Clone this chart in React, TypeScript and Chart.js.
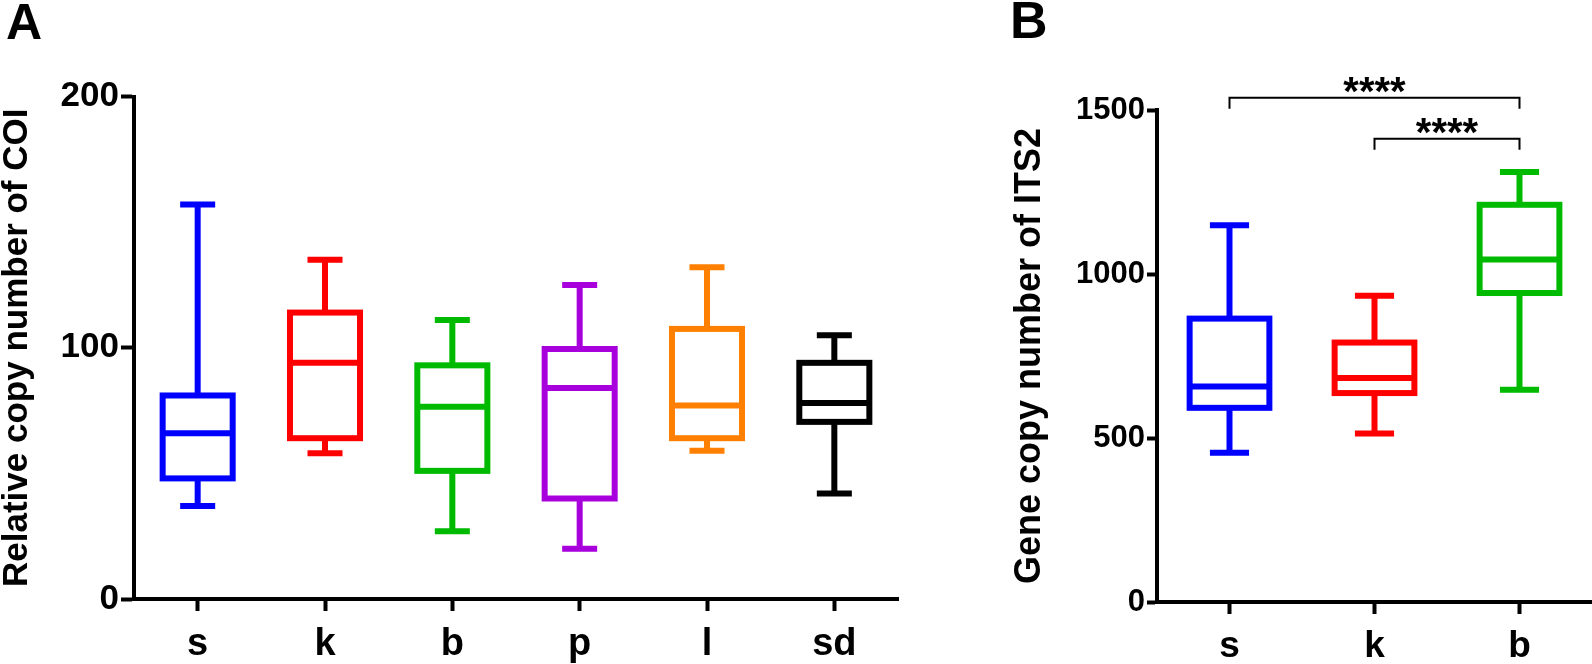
import React, { useEffect, useRef } from 'react';
import { Chart, registerables } from 'chart.js';

Chart.register(...registerables);

// ---------- Panel A data ----------
const categoriesA = ['s', 'k', 'b', 'p', 'l', 'sd'];
const minA = [37, 58, 27, 20, 59, 42];
const q1A = [48, 64, 51, 40, 64, 70.5];
const medianA = [66, 94, 76.5, 84, 77, 78];
const q3A = [81, 114, 93, 99.5, 107.5, 94];
const maxA = [157, 135, 111, 125, 132, 105];
const colorsA = ['#0000FF', '#FF0000', '#00BA00', '#A800DD', '#FF8000', '#000000'];
const ticksA = [0, 100, 200];

// ---------- Panel B data ----------
const categoriesB = ['s', 'k', 'b'];
const minB = [455, 514, 647];
const q1B = [592, 637, 942];
const medianB = [657, 683, 1044];
const q3B = [864, 791, 1211];
const maxB = [1149, 934, 1311];
const colorsB = ['#0000FF', '#FF0000', '#00BA00'];
const ticksB = [0, 500, 1000, 1500];

// significance brackets (panel B)
const bracketFrom = [0, 1];
const bracketTo = [2, 2];
const bracketLevel = [1537, 1412];
const bracketLabel = ['****', '****'];

const FONT = "'Liberation Sans', Arial, Helvetica, sans-serif";

type Stats = { min: number[]; q1: number[]; med: number[]; q3: number[]; max: number[] };

function makeBoxPlugin(
  id: string,
  stats: Stats,
  colors: string[],
  lw: number,
  boxFrac: number,
  capFrac: number,
  letter: string,
  letterX: number,
  letterY: number,
  letterSize: number,
  withBrackets: boolean
) {
  return {
    id,
    afterDatasetsDraw(chart: any) {
      const xs = chart.scales.x;
      const ys = chart.scales.y;
      const ctx: CanvasRenderingContext2D = chart.ctx;
      const step = Math.abs(xs.getPixelForValue(1) - xs.getPixelForValue(0));
      const bw = step * boxFrac;
      const cw = step * capFrac;
      ctx.save();
      ctx.lineCap = 'butt';
      ctx.lineJoin = 'miter';
      ctx.lineWidth = lw;
      stats.med.forEach((_, i) => {
        const cx = xs.getPixelForValue(i);
        const yMin = ys.getPixelForValue(stats.min[i]);
        const yQ1 = ys.getPixelForValue(stats.q1[i]);
        const yMed = ys.getPixelForValue(stats.med[i]);
        const yQ3 = ys.getPixelForValue(stats.q3[i]);
        const yMax = ys.getPixelForValue(stats.max[i]);
        ctx.strokeStyle = colors[i];
        ctx.beginPath();
        ctx.moveTo(cx, yQ3);
        ctx.lineTo(cx, yMax);
        ctx.moveTo(cx - cw / 2, yMax);
        ctx.lineTo(cx + cw / 2, yMax);
        ctx.moveTo(cx, yQ1);
        ctx.lineTo(cx, yMin);
        ctx.moveTo(cx - cw / 2, yMin);
        ctx.lineTo(cx + cw / 2, yMin);
        ctx.moveTo(cx - bw / 2, yMed);
        ctx.lineTo(cx + bw / 2, yMed);
        ctx.stroke();
        ctx.strokeRect(cx - bw / 2, yQ3, bw, yQ1 - yQ3);
      });
      ctx.restore();
    },
    afterDraw(chart: any) {
      const ctx: CanvasRenderingContext2D = chart.ctx;
      ctx.save();
      ctx.fillStyle = '#000';
      ctx.textAlign = 'left';
      ctx.textBaseline = 'alphabetic';
      ctx.font = `bold ${letterSize}px ${FONT}`;
      ctx.fillText(letter, letterX, letterY);
      if (withBrackets) {
        const xs = chart.scales.x;
        const ys = chart.scales.y;
        ctx.strokeStyle = '#000';
        ctx.lineWidth = 2;
        ctx.font = `bold 40px ${FONT}`;
        ctx.textAlign = 'center';
        bracketFrom.forEach((f, i) => {
          const x1 = xs.getPixelForValue(f);
          const x2 = xs.getPixelForValue(bracketTo[i]);
          const yb = ys.getPixelForValue(bracketLevel[i]);
          ctx.beginPath();
          ctx.moveTo(x1, yb + 11);
          ctx.lineTo(x1, yb);
          ctx.lineTo(x2, yb);
          ctx.lineTo(x2, yb + 11);
          ctx.stroke();
          const m = ctx.measureText(bracketLabel[i]);
          const asc = m.actualBoundingBoxAscent;
          const desc = m.actualBoundingBoxDescent;
          const centerY = yb - 13;
          const baseline = centerY + (asc - desc) / 2;
          ctx.fillText(bracketLabel[i], (x1 + x2) / 2, baseline);
        });
      }
      ctx.restore();
    },
  };
}

function buildConfig(opts: {
  labels: string[];
  stats: Stats;
  yMax: number;
  yTicks: number[];
  yTitle: string;
  padding: any;
  yWidth: number;
  xHeight: number;
  tickFont: number;
  xFont: number;
  titleFont: number;
  yTickLen: number;
  yTickPad: number;
  lw: number;
  plugin: any;
}) {
  const o = opts;
  return {
    type: 'bar' as const,
    data: {
      labels: o.labels,
      datasets: [
        {
          data: o.labels.map((_, i) => [o.stats.q1[i], o.stats.q3[i]]),
          backgroundColor: 'rgba(0,0,0,0)',
          borderWidth: 0,
        },
      ],
    },
    options: {
      responsive: false,
      animation: false as const,
      events: [],
      layout: { padding: o.padding },
      plugins: { legend: { display: false }, tooltip: { enabled: false } },
      scales: {
        x: {
          offset: true,
          grid: {
            offset: false,
            drawOnChartArea: false,
            drawTicks: true,
            tickLength: 12,
            tickWidth: o.lw - 2,
            tickColor: '#000',
          },
          border: { display: true, color: '#000', width: o.lw - 2 },
          ticks: {
            color: '#000',
            font: { family: FONT, size: o.xFont, weight: 'bold' },
            padding: 11,
          },
          afterFit(scale: any) {
            scale.height = o.xHeight;
          },
        },
        y: {
          min: 0,
          max: o.yMax,
          afterBuildTicks(scale: any) {
            scale.ticks = o.yTicks.map((v) => ({ value: v }));
          },
          grid: {
            drawOnChartArea: false,
            drawTicks: true,
            tickLength: o.yTickLen,
            tickWidth: o.lw - 2,
            tickColor: '#000',
          },
          border: { display: true, color: '#000', width: o.lw - 2 },
          ticks: {
            color: '#000',
            font: { family: FONT, size: o.tickFont, weight: 'bold' },
            padding: o.yTickPad,
            callback: (v: any) => String(v),
          },
          title: {
            display: true,
            text: o.yTitle,
            color: '#000',
            font: { family: FONT, size: o.titleFont, weight: 'bold', lineHeight: 1 },
            padding: { top: 0, bottom: 0 },
          },
          afterFit(scale: any) {
            scale.width = o.yWidth;
          },
        },
      },
    },
    plugins: [o.plugin],
  };
}

export default function App() {
  const refA = useRef<HTMLCanvasElement>(null);
  const refB = useRef<HTMLCanvasElement>(null);

  useEffect(() => {
    const statsA: Stats = { min: minA, q1: q1A, med: medianA, q3: q3A, max: maxA };
    const statsB: Stats = { min: minB, q1: q1B, med: medianB, q3: q3B, max: maxB };

    const chartA = new Chart(
      refA.current as HTMLCanvasElement,
      buildConfig({
        labels: categoriesA,
        stats: statsA,
        yMax: 200,
        yTicks: ticksA,
        yTitle: 'Relative copy number of COI',
        padding: { left: 0, top: 96.5, right: 62, bottom: 0 },
        yWidth: 134,
        xHeight: 65,
        tickFont: 35,
        xFont: 38,
        titleFont: 35,
        yTickLen: 13,
        yTickPad: 2,
        lw: 6,
        plugin: makeBoxPlugin('boxA', statsA, colorsA, 6, 0.55, 0.275, 'A', 6, 39, 50, false),
      }) as any
    );

    const chartB = new Chart(
      refB.current as HTMLCanvasElement,
      buildConfig({
        labels: categoriesB,
        stats: statsB,
        yMax: 1500,
        yTicks: ticksB,
        yTitle: 'Gene copy number of ITS2',
        padding: { left: 12, top: 110, right: 0, bottom: 0 },
        yWidth: 145,
        xHeight: 62,
        tickFont: 31,
        xFont: 37,
        titleFont: 36,
        yTickLen: 10,
        yTickPad: 2,
        lw: 6,
        plugin: makeBoxPlugin('boxB', statsB, colorsB, 6, 0.55, 0.27, 'B', 10, 38, 52, true),
      }) as any
    );

    return () => {
      chartA.destroy();
      chartB.destroy();
    };
  }, []);

  return (
    <div
      style={{
        position: 'fixed',
        left: 0,
        top: 0,
        width: 1592,
        height: 664,
        background: '#fff',
        overflow: 'hidden',
      }}
    >
      <canvas
        ref={refA}
        width={960}
        height={664}
        style={{ position: 'absolute', left: 0, top: 0, width: 960, height: 664 }}
      />
      <canvas
        ref={refB}
        width={592}
        height={664}
        style={{ position: 'absolute', left: 1000, top: 0, width: 592, height: 664 }}
      />
    </div>
  );
}
